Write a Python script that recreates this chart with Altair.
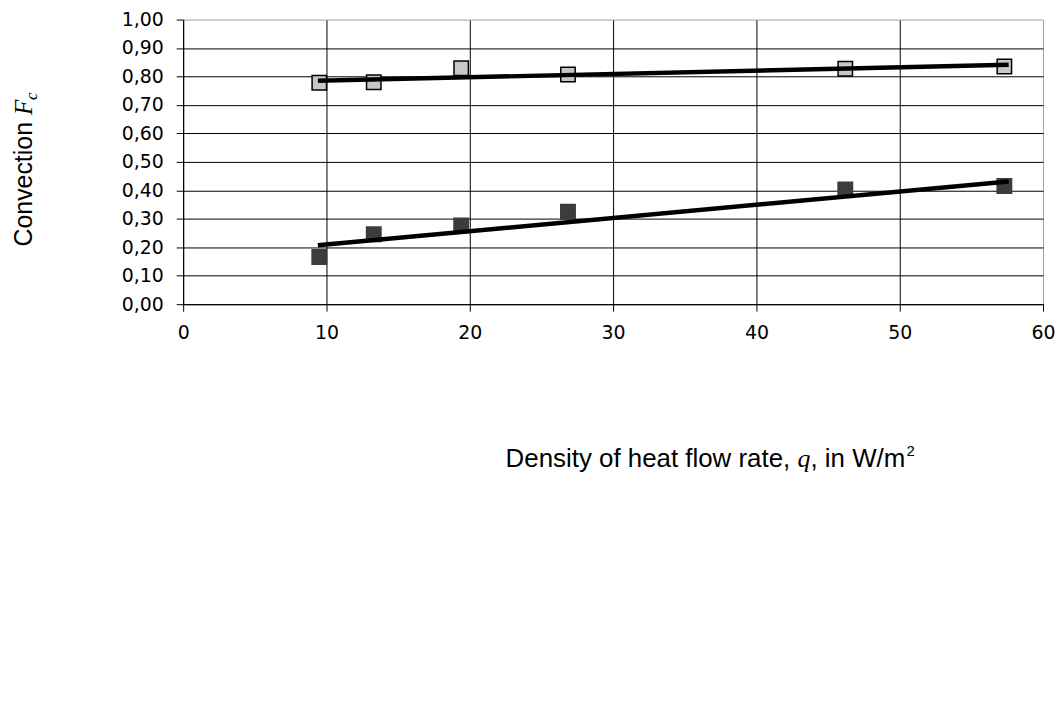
import altair as alt
import pandas as pd

# ---- data ----
q_values = [9.5, 13.3, 19.4, 26.85, 46.2, 57.3]
light_F = [0.778, 0.780, 0.829, 0.807, 0.827, 0.835]
dark_F = [0.166, 0.246, 0.277, 0.325, 0.403, 0.415]

trend_q = [9.4, 57.6]
light_trend = [0.785, 0.841]
dark_trend = [0.207, 0.431]

x_ticks = [0, 10, 20, 30, 40, 50, 60]
y_ticks = [0, 0.1, 0.2, 0.3, 0.4, 0.5, 0.6, 0.7, 0.8, 0.9, 1.0]

series_names = ["upper", "lower"]
series_fill = ["#c8c8c8", "#3c3c3c"]
series_stroke = ["black", "#3c3c3c"]

pts = pd.DataFrame({
    "q": q_values + q_values,
    "F": light_F + dark_F,
    "s": [series_names[0]] * len(q_values) + [series_names[1]] * len(q_values),
})
trend = pd.DataFrame({
    "q": trend_q + trend_q,
    "F": light_trend + dark_trend,
    "s": [series_names[0]] * 2 + [series_names[1]] * 2,
})

W, H = 864, 286

xscale = alt.Scale(domain=[0, 60], nice=False, zero=False)
yscale = alt.Scale(domain=[0, 1], nice=False)

xaxis = alt.Axis(
    values=x_ticks, title=None, format="d",
    gridColor=alt.condition("datum.value >= 60", alt.value("#a0a0a0"), alt.value("black")),
    labelPadding=12, labelOverlap=False, labelFlush=False,
)
yaxis = alt.Axis(
    values=y_ticks, title=None,
    labelExpr="replace(format(datum.value, '.2f'), '.', ',')",
    gridColor=alt.condition("datum.value >= 1", alt.value("#a0a0a0"), alt.value("black")),
    labelPadding=13, labelOverlap=False, labelFlush=False,
)

points = alt.Chart(pts).mark_point(
    shape="square", filled=True, size=210, opacity=1, strokeWidth=1.5
).encode(
    x=alt.X("q:Q", scale=xscale, axis=xaxis),
    y=alt.Y("F:Q", scale=yscale, axis=yaxis),
    fill=alt.Fill("s:N", scale=alt.Scale(domain=series_names, range=series_fill), legend=None),
    stroke=alt.Stroke("s:N", scale=alt.Scale(domain=series_names, range=series_stroke), legend=None),
)

lines = alt.Chart(trend).mark_line(color="black", strokeWidth=4.5).encode(
    x=alt.X("q:Q", scale=xscale, axis=xaxis),
    y=alt.Y("F:Q", scale=yscale, axis=yaxis),
    detail="s:N",
)

one = pd.DataFrame({"a": [0]})
OX, OY = 184, 18  # page position of plot origin

def txt(s, px, py, **kw):
    return alt.Chart(one).mark_text(text=s, **kw).encode(
        x=alt.value(px - OX), y=alt.value(py - OY)
    )

# y title (rotated)
YT = 25
y_base_x = 32
y_start = 246
w_conv = (5.002 + 0.278) * YT
w_F = 0.611 * YT
ytitle = [
    txt("Convection", y_base_x, y_start, angle=270, align="left", baseline="alphabetic",
        font="Liberation Sans", fontSize=YT, color="black"),
    txt("F", y_base_x, y_start - w_conv, angle=270, align="left", baseline="alphabetic",
        font="Liberation Serif", fontStyle="italic", fontSize=YT, color="black"),
    txt("c", y_base_x + 5, y_start - w_conv - w_F, angle=270, align="left", baseline="alphabetic",
        font="Liberation Serif", fontStyle="italic", fontSize=17, color="black"),
]

# x title
XT = 26
seg1 = "Density of heat flow rate,"
w1 = 11.283 * XT
wq = 0.5 * XT
w3 = 3.667 * XT
wsup = 0.556 * 15
total = w1 + wq + w3 + wsup
x0 = 713 - total / 2
xb = 468
xtitle = [
    txt(seg1, x0, xb, align="left", baseline="alphabetic",
        font="Liberation Sans", fontSize=XT, color="black"),
    txt("q", x0 + w1, xb, align="left", baseline="alphabetic",
        font="Liberation Serif", fontStyle="italic", fontSize=XT, color="black"),
    txt(", in W/m", x0 + w1 + wq, xb, align="left", baseline="alphabetic",
        font="Liberation Sans", fontSize=XT, color="black"),
    txt("2", x0 + w1 + wq + w3 + 1, xb - 11, align="left", baseline="alphabetic",
        font="Liberation Sans", fontSize=15, color="black"),
]

chart = alt.layer(points, lines, *ytitle, *xtitle).properties(
    width=W, height=H,
    background="white",
    autosize=alt.AutoSizeParams(type="none"),
    padding={"left": OX - 8, "top": OY - 8, "right": 12, "bottom": 380},
).configure_view(stroke=None).configure_axis(
    domainColor="black", domainWidth=1,
    tickColor="black", tickWidth=1, tickSize=7,
    gridWidth=1, gridOpacity=1,
    labelFont="DejaVu Sans", labelFontSize=19, labelColor="black",
)

chart.save("out.html", embed_options={"renderer": "svg", "actions": False})
